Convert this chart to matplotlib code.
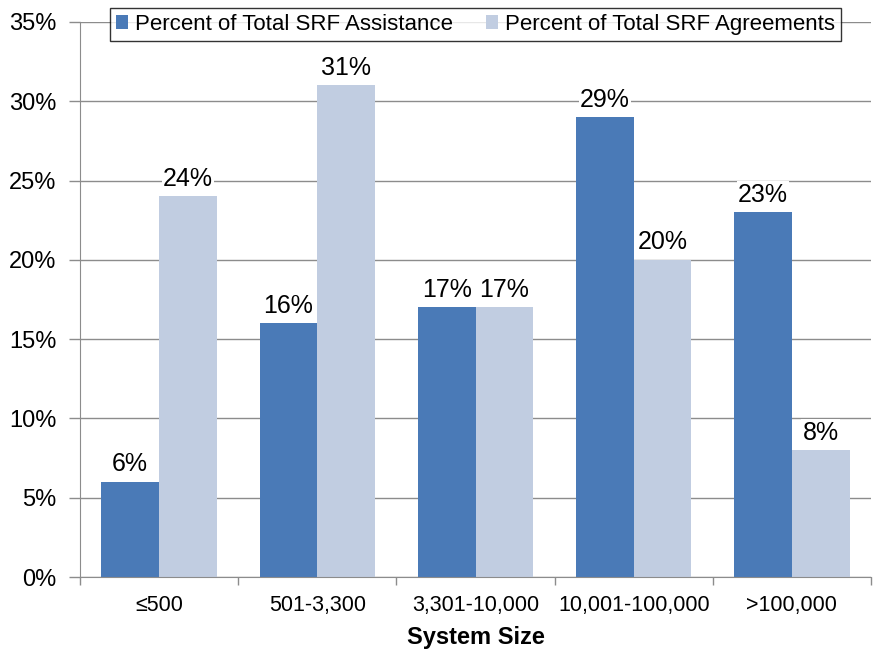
import numpy as np
import matplotlib
matplotlib.use("Agg")
import matplotlib.pyplot as plt
from matplotlib.ticker import FixedLocator

plt.rcParams['font.family'] = ['Liberation Sans', 'DejaVu Sans']

categories = ['\u2264500', '501-3,300', '3,301-10,000', '10,001-100,000', '>100,000']
assistance = [6, 16, 17, 29, 23]     # Percent of Total SRF Assistance
agreements = [24, 31, 17, 20, 8]     # Percent of Total SRF Agreements
yticks = [0, 5, 10, 15, 20, 25, 30, 35]

dark = '#4A7AB7'
light = '#C1CDE1'
grid_c = '#8C8C8C'

fig = plt.figure(figsize=(8.74, 6.59), dpi=100)
ax = fig.add_axes([80/874, 1-577/659, 791/874, 555/659])

x = np.arange(len(categories))
w = 0.365
b1 = ax.bar(x - w/2, assistance, w, color=dark, label='Percent of Total SRF Assistance', zorder=2)
b2 = ax.bar(x + w/2, agreements, w, color=light, label='Percent of Total SRF Agreements', zorder=2)

for bars, vals in ((b1, assistance), (b2, agreements)):
    for r, v in zip(bars, vals):
        ax.annotate(f'{v}%', (r.get_x() + r.get_width()/2, v), xytext=(0, 4),
                    textcoords='offset points', ha='center', va='bottom', fontsize=18,
                    bbox=dict(boxstyle='square,pad=0.05', fc='white', ec='none'), zorder=3)

ax.set_xlim(-0.5, len(categories) - 0.5)
ax.set_ylim(0, 35)
ax.set_yticks(yticks)
ax.set_yticklabels([f'{t}%' for t in yticks], fontsize=17)
ax.yaxis.grid(True, color=grid_c, linewidth=1, zorder=0)
ax.tick_params(axis='y', length=8, width=1, color=grid_c, pad=9)

ax.set_xticks(x)
ax.set_xticklabels(categories, fontsize=15.5)
ax.tick_params(axis='x', which='major', length=0, pad=13)
ax.xaxis.set_minor_locator(FixedLocator(np.arange(-0.5, len(categories), 1.0)))
ax.tick_params(axis='x', which='minor', length=6, width=1, color=grid_c)

for s in ('top', 'right'):
    ax.spines[s].set_visible(False)
for s in ('left', 'bottom'):
    ax.spines[s].set_color(grid_c)

ax.set_xlabel('System Size', fontsize=17, fontweight='bold', labelpad=7)

leg = fig.legend(loc='center', bbox_to_anchor=(475.5/874, 1-24.5/659), ncol=2,
                 fontsize=16, frameon=True, fancybox=False, edgecolor='black',
                 handlelength=0.55, handleheight=0.55, handletextpad=0.3,
                 columnspacing=1.5, borderpad=0.25)
leg.get_frame().set_linewidth(1)

fig.savefig('out.png', dpi=100)
